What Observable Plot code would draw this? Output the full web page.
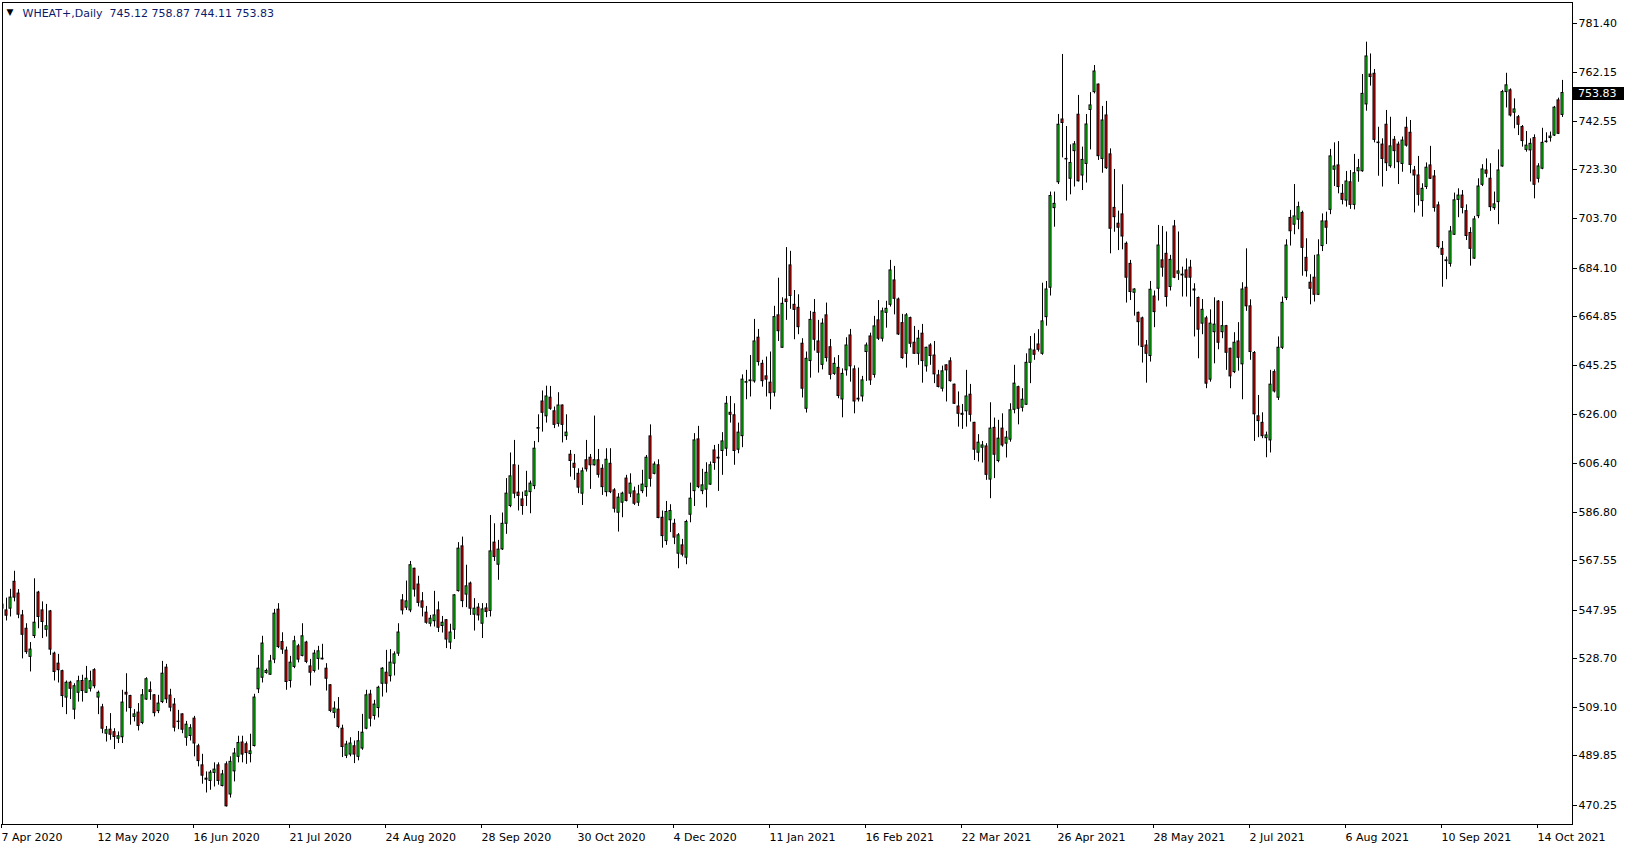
<!DOCTYPE html>
<html><head><meta charset="utf-8">
<script src="https://cdn.jsdelivr.net/npm/d3@7"></script>
<script src="https://cdn.jsdelivr.net/npm/@observablehq/plot@0.6"></script>
<style>
html,body{margin:0;padding:0;background:#fff;}
#chart{position:relative;width:1629px;height:850px;overflow:hidden;}
</style></head><body><div id="chart"></div>
<script>
const symbol = "WHEAT+";
const period = "Daily";

const open = [
550.1,547.8,548.5,559.2,554.5,545.8,540.5,529.3,537.6,554.9,547.8,540.1,547.4,530.6,526.6,523.6,513.1,519.0,508.3,515.0,
519.7,515.0,516.6,524.0,513.1,509.2,498.7,500.3,499.3,496.7,497.3,515.0,513.7,505.4,507.1,503.0,512.3,516.0,514.0,507.7,
511.3,525.0,513.9,510.3,503.5,506.4,497.1,497.8,504.7,493.7,486.1,480.8,479.9,483.1,486.1,477.9,486.5,474.5,483.7,489.5,
495.2,494.5,490.6,493.8,516.4,521.0,522.9,522.2,528.2,548.1,535.2,531.8,519.7,525.3,533.5,529.7,535.0,525.5,523.7,528.5,
528.3,524.6,518.0,507.0,508.3,500.7,489.9,490.4,493.7,489.5,492.8,500.7,514.3,505.8,508.9,518.6,523.0,521.6,526.6,530.6,
551.8,548.9,547.8,564.4,558.1,551.4,546.9,542.5,543.5,547.8,541.6,543.9,535.0,540.1,555.5,573.3,554.1,558.5,546.1,548.9,
542.5,548.6,547.6,574.8,566.0,572.1,582.3,589.4,605.6,594.7,592.0,593.4,594.9,597.3,620.2,631.0,625.1,632.5,627.1,622.1,
629.4,617.2,609.8,606.2,602.2,594.3,607.6,608.6,605.6,607.6,604.2,594.9,606.2,595.6,586.7,590.7,600.3,594.3,595.2,590.7,
595.3,596.9,617.1,602.2,605.6,584.7,575.4,583.7,582.3,570.4,573.7,568.8,585.9,595.3,615.9,595.3,595.9,597.9,611.5,608.6,
611.3,612.2,626.5,625.5,611.8,617.2,638.5,639.1,639.0,656.4,646.0,641.0,638.5,634.5,665.3,652.4,671.6,685.2,669.5,668.3,
654.0,628.1,647.1,666.3,654.9,645.6,665.3,652.6,642.0,644.4,631.8,643.4,657.3,643.8,632.1,633.0,650.7,656.9,641.6,663.3,
656.0,666.3,669.5,679.2,671.6,662.2,650.0,664.2,654.4,650.0,658.0,645.0,653.3,649.3,641.4,636.1,645.4,647.0,637.7,629.0,
626.1,627.1,633.7,622.5,610.6,612.6,613.1,599.9,620.5,607.3,620.2,614.2,615.8,627.7,636.7,628.5,629.7,646.4,651.3,653.7,
650.0,664.6,676.3,708.0,718.3,743.3,727.6,719.7,730.7,745.2,721.0,725.6,747.1,754.2,757.2,727.6,744.9,729.4,708.1,701.8,
705.5,693.8,685.8,674.3,666.3,664.1,653.3,649.1,672.8,675.9,687.2,689.8,676.6,700.7,681.9,681.5,683.2,684.3,675.6,672.2,
662.0,664.1,639.7,658.6,670.8,658.6,661.0,652.0,642.7,654.9,645.8,676.3,668.9,650.3,625.1,622.5,616.4,615.5,642.7,632.5,
652.4,672.2,704.1,701.4,703.4,706.1,688.2,678.3,680.3,673.5,692.9,702.7,707.3,723.3,725.0,713.7,711.0,718.3,709.3,722.7,
722.7,749.3,761.2,761.5,734.1,733.3,741.2,724.7,735.2,733.3,725.6,740.0,738.0,723.0,721.0,710.8,716.4,725.0,720.6,709.1,
691.8,686.9,685.8,697.4,711.3,713.0,706.8,698.1,687.9,704.8,717.3,723.0,719.7,708.0,710.4,724.6,754.2,754.9,746.0,744.2,
740.3,731.2,731.0,735.9,719.7,723.7,734.3,735.9,736.9,750.9,745.12];

const high = [
553.8,552.7,556.2,563.4,556.1,547.8,542.5,535.0,560.4,555.4,551.2,550.2,547.8,531.2,530.3,524.0,519.7,519.6,518.6,521.6,
522.0,525.5,523.6,524.6,515.7,510.4,501.6,506.7,500.7,499.4,516.0,522.6,514.0,508.3,510.7,516.3,521.0,519.3,514.2,514.0,
527.5,526.3,516.4,512.7,508.0,506.6,503.6,502.3,505.6,494.5,490.5,483.5,484.0,487.1,487.1,484.1,487.5,489.5,492.8,497.7,
497.7,495.4,498.5,514.4,529.9,537.5,524.4,529.9,548.2,550.5,538.9,533.2,529.5,537.5,534.3,542.5,535.5,528.3,531.9,533.5,
534.3,526.6,518.2,511.4,513.1,502.1,495.7,497.1,495.8,499.6,506.4,516.0,516.0,512.0,517.6,525.0,531.9,532.2,531.3,542.5,
554.1,559.5,567.3,564.6,561.4,554.9,549.4,545.8,555.4,551.2,545.4,544.1,542.3,554.1,574.8,577.0,565.8,559.1,552.5,550.5,
550.5,550.5,585.6,582.3,575.7,586.6,600.3,610.5,615.5,605.6,594.9,603.2,599.3,615.1,625.7,635.2,637.1,637.0,628.8,634.5,
629.6,625.7,611.5,609.9,604.2,604.5,615.5,609.9,625.2,611.9,605.8,612.2,612.2,596.3,594.3,594.9,601.6,602.2,596.9,597.6,
603.6,609.5,621.7,606.9,607.8,587.4,591.2,589.9,584.1,578.4,576.1,583.7,598.5,618.2,621.1,604.0,606.6,606.9,613.5,613.9,
618.6,633.0,633.0,630.1,622.4,641.6,643.4,649.3,663.7,659.7,647.4,648.7,650.7,668.9,680.1,672.3,692.3,690.8,675.2,673.5,
656.0,650.7,666.9,671.6,663.3,663.9,670.2,655.7,648.4,649.3,644.0,656.4,659.7,645.2,644.3,641.0,654.3,658.2,664.9,671.2,
668.2,670.9,687.2,684.8,672.2,665.7,666.0,664.6,660.9,659.3,661.7,652.6,654.0,654.9,643.4,645.1,645.6,648.4,637.9,634.8,
629.8,643.4,637.8,622.7,617.8,615.1,614.2,630.5,624.4,623.5,626.1,619.1,630.1,645.4,637.1,636.1,650.0,656.9,658.0,659.6,
678.1,678.8,714.4,714.4,745.3,769.2,740.5,733.2,734.5,752.9,732.3,745.3,754.0,764.8,757.4,748.5,750.5,731.6,723.4,706.8,
717.3,694.5,687.2,675.9,666.6,664.6,655.3,678.8,675.0,701.1,700.7,698.5,689.2,703.1,698.5,684.5,687.8,687.2,677.9,672.6,
671.6,664.9,667.5,672.3,671.2,670.8,661.3,652.2,658.4,662.4,678.3,691.8,671.5,650.9,633.4,626.5,618.8,643.4,643.6,656.7,
672.6,695.4,707.1,717.4,710.4,706.8,695.8,681.5,689.2,695.4,705.7,706.4,731.4,734.0,734.5,717.4,722.6,723.0,729.4,727.4,
761.2,774.1,769.4,763.2,740.2,735.6,746.9,744.2,736.5,734.3,736.3,744.2,742.9,724.6,728.6,717.7,726.0,732.6,723.0,710.4,
694.7,688.5,700.7,714.0,715.7,715.0,709.3,700.2,704.7,719.7,725.3,727.6,725.7,714.4,731.2,754.9,761.7,755.5,751.5,744.9,
740.9,738.5,735.6,737.2,725.7,739.8,738.0,738.3,748.5,751.8,758.87];

const low = [
543.9,543.6,545.2,551.2,544.5,528.5,530.3,523.3,536.6,540.5,536.6,537.2,529.9,519.7,518.9,509.1,506.3,512.3,504.3,511.3,
511.3,514.7,515.3,516.6,506.3,498.7,495.4,496.1,492.4,494.8,494.8,507.3,502.1,503.4,499.8,502.3,512.0,512.0,505.4,506.7,
510.7,510.7,507.4,499.4,500.3,498.7,493.7,495.8,489.5,485.5,478.6,475.1,476.2,477.5,478.2,477.5,469.5,473.1,479.5,487.1,
487.1,486.5,487.1,493.4,514.7,518.9,522.4,522.0,526.6,532.6,530.3,516.0,516.9,524.6,526.9,529.3,526.6,517.7,522.9,524.0,
528.1,515.7,507.1,504.7,500.7,489.2,488.8,489.5,486.8,487.9,492.1,500.3,501.4,504.1,505.0,513.3,514.9,519.3,521.7,529.5,
546.0,547.8,546.9,553.1,549.2,545.2,542.3,541.2,541.2,539.0,538.8,532.6,532.2,536.2,555.1,548.9,548.9,545.8,539.6,543.6,
536.6,544.9,545.2,567.3,559.8,571.7,578.1,588.7,592.3,587.4,585.7,589.2,586.3,595.9,614.6,618.8,622.4,627.5,620.2,620.8,
614.5,615.5,600.9,599.6,594.3,589.6,602.9,596.0,605.3,600.5,593.6,593.0,594.3,586.6,579.0,584.7,591.0,592.7,589.6,589.2,
594.3,592.9,596.9,601.8,584.3,572.6,573.7,578.8,574.0,564.4,569.1,566.0,582.7,589.2,596.3,593.9,588.6,597.6,603.6,595.2,
601.6,609.1,622.4,605.6,610.2,612.6,631.7,632.8,638.3,645.1,636.7,632.8,627.7,632.8,654.9,652.2,663.3,667.7,655.6,657.6,
632.4,626.4,640.3,651.1,642.3,643.6,646.7,639.6,641.4,632.1,624.5,641.1,638.7,626.1,630.8,630.8,639.0,637.4,640.3,655.3,
654.7,660.2,668.6,665.5,657.3,647.8,644.3,652.4,649.8,645.4,638.3,642.7,645.4,638.1,636.4,634.8,630.8,638.7,629.8,620.8,
619.9,620.8,622.8,607.5,606.9,606.5,599.6,592.3,600.3,606.6,612.8,608.5,614.8,626.1,621.7,626.8,629.4,638.1,647.4,650.7,
649.4,661.0,673.0,700.4,717.4,728.0,710.8,713.3,716.4,718.4,715.0,718.0,731.2,753.5,727.0,721.9,723.4,689.8,698.4,691.1,
691.4,670.2,671.2,665.0,653.1,646.3,638.3,646.7,660.4,671.0,680.5,668.6,675.0,679.9,679.2,672.6,672.6,668.6,656.7,648.0,
657.6,636.1,638.7,646.0,651.6,656.0,643.4,636.1,642.1,643.1,631.7,666.9,647.4,615.1,616.6,616.2,608.6,610.5,634.4,631.4,
651.7,671.2,692.9,697.4,699.4,680.9,680.5,669.5,670.6,673.2,690.7,693.5,705.4,716.6,713.7,709.3,708.4,707.5,707.3,718.3,
722.3,746.6,756.6,734.0,720.7,716.4,722.6,723.9,723.7,717.4,722.3,732.3,721.7,706.1,708.8,704.4,715.4,719.4,706.4,691.8,
676.5,679.5,684.5,697.1,704.2,705.7,695.1,684.9,687.6,703.8,716.6,720.1,706.7,707.1,701.4,724.3,747.9,744.3,739.6,736.9,
732.3,730.3,718.4,711.7,718.0,723.3,733.9,734.3,736.5,737.3,744.11];

const close = [
548.5,545.7,552.9,552.9,546.1,538.1,531.2,532.2,542.9,545.2,543.2,541.5,532.2,523.3,524.0,513.7,519.0,516.6,517.6,519.6,
515.7,520.6,519.6,517.6,515.0,500.7,500.1,498.3,497.4,497.7,511.1,514.3,508.9,506.4,501.8,514.0,520.4,515.3,506.9,510.7,
522.6,512.4,509.1,501.1,503.4,500.3,502.3,500.9,494.8,487.8,482.0,480.4,483.2,484.4,479.9,482.5,469.8,487.5,490.8,495.0,
490.4,491.0,491.7,513.1,524.6,534.6,523.7,527.5,546.5,533.2,532.2,519.3,527.0,535.5,528.2,537.5,527.3,523.0,530.6,531.5,
528.6,520.6,507.8,508.7,501.4,493.4,494.4,494.8,490.4,495.7,499.1,514.0,504.7,510.3,517.0,524.6,518.6,527.0,530.3,539.0,
547.8,551.4,565.8,556.1,550.8,548.9,542.9,544.5,545.8,540.9,542.9,536.2,539.0,553.8,572.4,551.5,557.4,548.5,548.5,545.8,
548.2,547.2,571.3,569.1,572.0,582.3,594.3,601.2,594.3,593.4,589.4,595.2,598.3,612.2,620.4,626.5,633.0,628.1,621.7,629.4,
621.7,618.6,607.3,604.6,596.7,603.2,604.0,605.6,607.6,601.8,596.9,607.8,594.9,588.3,592.7,594.3,591.4,598.3,590.3,594.0,
597.9,608.6,600.2,605.9,584.6,577.4,587.0,587.4,576.8,577.7,570.0,583.0,592.3,615.5,596.9,597.6,602.6,605.6,606.5,608.3,
615.1,630.1,625.7,611.3,618.6,639.7,638.7,639.4,654.9,646.7,639.1,639.7,634.3,664.6,659.0,669.9,670.6,673.0,667.5,660.6,
636.1,648.0,663.5,655.6,650.4,662.0,648.3,641.6,646.0,633.2,642.0,653.3,645.0,631.0,631.8,639.4,653.3,639.4,660.9,656.0,
666.9,667.9,683.2,671.9,657.7,648.3,665.3,654.0,650.0,656.0,647.1,652.4,649.1,641.8,636.8,643.0,643.4,639.1,630.1,626.1,
625.7,633.0,625.7,611.8,614.6,613.5,601.8,620.2,609.8,616.2,613.5,616.6,627.5,638.1,628.1,631.7,646.4,651.7,649.6,651.6,
662.9,675.6,712.8,709.7,741.2,741.9,727.4,726.0,733.4,718.7,727.2,741.3,748.9,762.4,728.7,742.9,723.9,699.8,704.4,700.2,
696.7,680.3,674.6,675.6,662.6,652.7,650.0,675.5,666.6,693.1,684.3,672.6,687.4,680.3,682.8,681.2,680.3,680.3,675.2,659.6,
667.5,638.1,662.0,661.6,654.4,661.0,650.4,641.0,654.4,648.4,675.6,668.9,650.7,625.9,623.2,617.2,617.5,637.7,635.0,652.4,
670.3,693.1,698.8,704.7,708.4,692.2,682.9,675.9,673.5,689.2,702.7,700.2,728.6,724.6,716.4,711.3,718.6,709.3,721.9,723.9,
753.5,768.4,760.2,735.2,733.9,727.6,725.9,732.6,730.7,726.3,734.9,732.9,725.2,721.0,713.3,715.7,724.1,719.7,708.1,692.5,
689.4,687.2,698.7,711.1,713.0,708.1,696.9,691.8,703.5,716.6,723.4,721.7,708.4,709.5,723.0,754.2,756.9,744.9,747.3,741.2,
734.7,732.9,733.6,717.3,724.6,734.0,734.5,736.5,748.0,737.6,753.83];

const dateTickIndex = [0,24,48,72,96,120,144,168,192,216,240,264,288,312,336,360,384];
const dateTickLabels = ["7 Apr 2020","12 May 2020","16 Jun 2020","21 Jul 2020","24 Aug 2020","28 Sep 2020",
  "30 Oct 2020","4 Dec 2020","11 Jan 2021","16 Feb 2021","22 Mar 2021","26 Apr 2021","28 May 2021",
  "2 Jul 2021","6 Aug 2021","10 Sep 2021","14 Oct 2021"];
const priceTicks = [781.40,762.15,742.55,723.30,703.70,684.10,664.85,645.25,626.00,606.40,586.80,
  567.55,547.95,528.70,509.10,489.85,470.25];

const bars = open.map((o, i) => ({i, o, h: high[i], l: low[i], c: close[i], up: close[i] >= o}));
const last = bars[bars.length - 1];
const fmt = d3.format(".2f");
const header = `${symbol},${period}  ${fmt(last.o)} ${fmt(last.h)} ${fmt(last.l)} ${fmt(last.c)}`;
const FONT = "'DejaVu Sans', Verdana, sans-serif";

const chart = Plot.plot({
  width: 1629, height: 850,
  marginTop: 2, marginLeft: 2, marginRight: 57, marginBottom: 26,
  style: {background: "#ffffff", fontFamily: FONT, fontSize: "11px", color: "#000", overflow: "visible"},
  x: {type: "linear", domain: [0, 392.5], axis: null},
  y: {domain: [462.55, 789.89], axis: null},
  marks: [
    Plot.ruleX(bars, {x: "i", y1: "l", y2: "h", stroke: "#000", strokeWidth: 1, clip: true}),
    Plot.rect(bars, {filter: d => d.up, x1: d => d.i - 0.25, x2: d => d.i + 0.25, y1: "o", y2: "c",
      fill: "#00ff00", stroke: "#000", strokeWidth: 1, clip: true}),
    Plot.rect(bars, {filter: d => !d.up, x1: d => d.i - 0.25, x2: d => d.i + 0.25, y1: "o", y2: "c",
      fill: "#ff0000", stroke: "#000", strokeWidth: 1, clip: true}),
    Plot.axisY(priceTicks, {anchor: "right", tickSize: 4, tickPadding: 2, tickFormat: fmt, label: null,
      fontSize: 11, fill: "#000", stroke: "#000", shapeRendering: "crispEdges"}),
    Plot.axisX(dateTickIndex, {anchor: "bottom", tickSize: 4, tickPadding: 5, label: null,
      tickFormat: d => dateTickLabels[dateTickIndex.indexOf(d)], textAnchor: "start", dx: -1,
      fontSize: 11, fill: "#000", stroke: "#000", shapeRendering: "crispEdges"}),
    Plot.frame({stroke: "#000", strokeWidth: 1, shapeRendering: "crispEdges"}),
    Plot.text(["\u25BC"], {frameAnchor: "top-left", dx: 4, dy: 6, fontSize: 9, fill: "#000", lineAnchor: "top"}),
    Plot.text([header], {frameAnchor: "top-left", dx: 20, dy: 7, fontSize: 11, fill: "#0d1a6b", textAnchor: "start", lineAnchor: "top"})
  ]
});
document.getElementById("chart").appendChild(chart);

// current price marker on the price axis, placed with the chart's own scales
const svg = d3.select(chart);
const yPx = chart.scale("y").apply(last.c);
const xRight = chart.scale("x").apply(chart.scale("x").domain[1]);
svg.append("rect").attr("x", xRight + 1).attr("y", Math.round(yPx) - 6).attr("width", 51).attr("height", 13).attr("fill", "#000");
svg.append("text").attr("x", xRight + 6).attr("y", Math.round(yPx)).attr("dy", "0.36em")
  .attr("text-anchor", "start").attr("fill", "#fff").attr("font-family", FONT).attr("font-size", 11).text(fmt(last.c));
</script></body></html>
